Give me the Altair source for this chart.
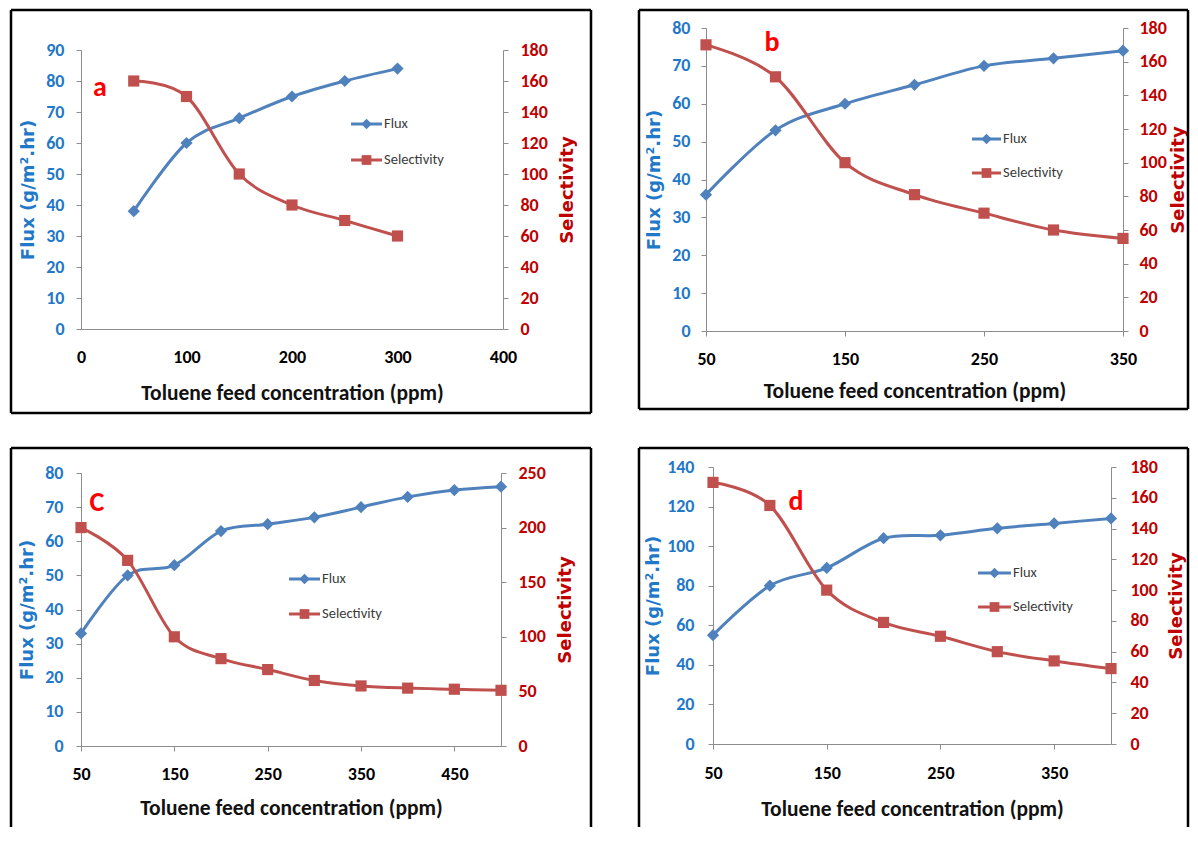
import altair as alt
import pandas as pd

# ---------------- data ----------------
a_x = [50, 100, 150, 200, 250, 300]
a_flux = [38, 60, 68, 75, 80, 84]
a_sel = [160, 150, 100, 80, 70, 60]

b_x = [50, 100, 150, 200, 250, 300, 350]
b_flux = [36, 53, 60, 65, 70, 72, 74]
b_sel = [170, 151, 100, 81, 70, 60, 55]

c_x = [50, 100, 150, 200, 250, 300, 350, 400, 450, 500]
c_flux = [33, 50, 53, 63, 65, 67, 70, 73, 75, 76]
c_sel = [200, 170, 100, 80, 70, 60, 55, 53, 52, 51]

d_x = [50, 100, 150, 200, 250, 300, 350, 400]
d_flux = [55, 80, 89, 104, 105.5, 109, 111.5, 114]
d_sel = [170, 155, 100, 79, 70, 60, 54, 49]

a_xticks = [0, 100, 200, 300, 400]
b_xticks = [50, 150, 250, 350]
c_xticks = [50, 150, 250, 350, 450]
d_xticks = [50, 150, 250, 350]

a_fticks = list(range(0, 91, 10))
b_fticks = list(range(0, 81, 10))
c_fticks = list(range(0, 81, 10))
d_fticks = list(range(0, 141, 20))

a_sticks = list(range(0, 181, 20))
b_sticks = list(range(0, 181, 20))
c_sticks = list(range(0, 251, 50))
d_sticks = list(range(0, 181, 20))

X_TITLE = "Toluene feed concentration (ppm)"
FLUX_TITLE = "Flux (g/m\u00b2.hr)"
SEL_TITLE = "Selectivity"
LEG_FLUX = "Flux"
LEG_SEL = "Selectivity"

# ---------------- styling ----------------
FONT = "Carlito, 'Liberation Sans Narrow', Roboto, sans-serif"
YFONT = "'DejaVu Sans', Verdana, sans-serif"
BLUE_LINE = "#4F81BD"
RED_LINE = "#C0504D"
BLUE_TXT = "#1F78C8"
RED_TXT = "#C00000"
GRAY = "#8C8C8C"

one = pd.DataFrame({"k": [0]})


def frame(x0, x1, y0, y1, bottom=True):
    parts = []
    segs = [(x0, x1, y0, y0), (x0, x0, y0, y1), (x1, x1, y0, y1)]
    if bottom:
        segs.append((x0, x1, y1, y1))
    for (xa, xb, ya, yb) in segs:
        parts.append(
            alt.Chart(one).mark_rule(color="black", strokeWidth=2.5).encode(
                x=alt.value(xa), x2=alt.value(xb), y=alt.value(ya), y2=alt.value(yb)
            )
        )
    return parts


def legend(x0, x1, y, color, shape, size, label):
    rule = alt.Chart(one).mark_rule(color=color, strokeWidth=3).encode(
        x=alt.value(x0), x2=alt.value(x1), y=alt.value(y)
    )
    pt = alt.Chart(one).mark_point(shape=shape, filled=True, size=size, color=color, opacity=1).encode(
        x=alt.value((x0 + x1) / 2), y=alt.value(y)
    )
    txt = alt.Chart(one).mark_text(
        text=label, align="left", baseline="middle", font=FONT, fontSize=14.5, color="#3A3A3A"
    ).encode(x=alt.value(x1 + 2), y=alt.value(y))
    return [rule, pt, txt]


def panel(xs, flux, sel, p):
    df = pd.DataFrame({"x": xs, "flux": flux, "sel": sel})
    base = alt.Chart(df)
    xenc = alt.X(
        "x:Q",
        scale=alt.Scale(domain=p["xdom"], range=p["xrange"], nice=False, zero=False),
        axis=alt.Axis(
            values=p["xticks"], format="d", title=X_TITLE, grid=False, labelFlush=False,
            ticks=p["xtick_on"], tickSize=5, tickColor=GRAY, domainColor=GRAY,
            labelFont=FONT, labelFontSize=18, labelFontWeight="bold", labelColor="black",
            labelPadding=p["xlabpad"],
            titleFont=FONT, titleFontSize=21.5, titleFontWeight="bold", titleColor="#111111",
            titlePadding=p["xtitlepad"],
        ),
    )
    yflux = alt.Y(
        "flux:Q",
        scale=alt.Scale(domain=p["fdom"], range=p["yrange"], nice=False, zero=True),
        axis=alt.Axis(
            orient="left", values=p["fticks"], format="d", title=FLUX_TITLE, grid=False,
            offset=p.get("loff", 0),
            tickSize=5, tickColor=GRAY, domainColor=GRAY,
            labelFont=FONT, labelFontSize=18, labelFontWeight="bold", labelColor=BLUE_TXT,
            labelPadding=p["llabpad"],
            titleFont=YFONT, titleFontSize=18, titleFontWeight="bold", titleColor=BLUE_TXT,
            titlePadding=p["ltitlepad"],
        ),
    )
    ysel = alt.Y(
        "sel:Q",
        scale=alt.Scale(domain=p["sdom"], range=p["yrange"], nice=False, zero=True),
        axis=alt.Axis(
            orient="right", values=p["sticks"], format="d", title=SEL_TITLE, grid=False,
            tickSize=5, tickColor=GRAY, domainColor=GRAY,
            labelFont=FONT, labelFontSize=18, labelFontWeight="bold", labelColor=RED_TXT,
            labelPadding=p["rlabpad"],
            titleFont=YFONT, titleFontSize=18, titleFontWeight="bold", titleColor=RED_TXT,
            titleAngle=270, titleBaseline="top", titlePadding=p["rtitlepad"],
        ),
    )
    flux_layer = alt.layer(
        base.mark_line(color=BLUE_LINE, strokeWidth=3, interpolate="cardinal").encode(x=xenc, y=yflux),
        base.mark_point(shape="diamond", filled=True, size=150, color=BLUE_LINE, opacity=1).encode(x=xenc, y=yflux),
    )
    sel_layer = alt.layer(
        base.mark_line(color=RED_LINE, strokeWidth=3, interpolate="cardinal").encode(x=xenc, y=ysel),
        base.mark_point(shape="square", filled=True, size=125, color=RED_LINE, opacity=1).encode(x=xenc, y=ysel),
    )
    lx0, lx1, ly1, ly2 = p["leg"]
    deco = []
    deco += frame(*p["frame"], bottom=p["frame_bottom"])
    deco += legend(lx0, lx1, ly1, BLUE_LINE, "diamond", 110, LEG_FLUX)
    deco += legend(lx0, lx1, ly2, RED_LINE, "square", 95, LEG_SEL)
    tx, ty, letter = p["letter"]
    deco.append(
        alt.Chart(one).mark_text(
            text=letter, font=FONT, fontSize=28, fontWeight="bold", color="#FF0000",
            align="center", baseline="middle",
        ).encode(x=alt.value(tx), y=alt.value(ty))
    )
    return (
        alt.layer(flux_layer, sel_layer, *deco)
        .resolve_scale(y="independent")
        .properties(width=p["w"], height=p["h"])
    )


pa = panel(a_x, a_flux, a_sel, dict(
    xdom=[0, 400], xrange=[0, 422], xticks=a_xticks, xtick_on=False, xlabpad=19, xtitlepad=16,
    fdom=[0, 90], fticks=a_fticks, sdom=[0, 180], sticks=a_sticks, yrange=[301, 22],
    llabpad=12, ltitlepad=8, rlabpad=12, rtitlepad=11,
    w=422, h=301, frame=(-70, 510, -18, 385), frame_bottom=True,
    leg=(270, 301, 96, 132), letter=(19, 60, "a"),
))
pb = panel(b_x, b_flux, b_sel, dict(
    xdom=[50, 350], xrange=[0, 417], xticks=b_xticks, xtick_on=True, xlabpad=14, xtitlepad=12,
    fdom=[0, 80], fticks=b_fticks, sdom=[0, 180], sticks=b_sticks, yrange=[303, 0],
    llabpad=11, ltitlepad=8, rlabpad=11, rtitlepad=3,
    w=417, h=303, frame=(-67, 482, -18, 381), frame_bottom=True,
    leg=(266, 295, 111, 145), letter=(66, 15, "b"),
))
pc = panel(c_x, c_flux, c_sel, dict(
    xdom=[50, 500], xrange=[0, 420], xticks=c_xticks, xtick_on=True, xlabpad=14, xtitlepad=14,
    fdom=[0, 80], fticks=c_fticks, sdom=[0, 250], sticks=c_sticks, yrange=[280, 7],
    llabpad=13, ltitlepad=8, rlabpad=12, rtitlepad=11,
    w=420, h=280, frame=(-70, 510, -18, 361), frame_bottom=False,
    leg=(208, 239, 113, 148), letter=(16, 37, "C"),
))
pd_ = panel(d_x, d_flux, d_sel, dict(
    xdom=[50, 400], xrange=[7, 405], xticks=d_xticks, xtick_on=True, xlabpad=15, xtitlepad=16,
    fdom=[0, 140], fticks=d_fticks, sdom=[0, 180], sticks=d_sticks, yrange=[278, 1],
    llabpad=14, ltitlepad=4, rlabpad=14, rtitlepad=10, loff=-7,
    w=405, h=278, frame=(-67, 482, -18, 361), frame_bottom=False,
    leg=(272, 305, 107, 141), letter=(90, 36, "d"),
))

chart = (
    alt.concat(pa, pb, pc, pd_, columns=2, spacing={"row": 135, "column": 203}, bounds="flush")
    .properties(padding={"left": 1, "top": 0, "right": 0, "bottom": 0}, background="white")
    .configure_view(stroke=None)
)

chart.save("out.html", embed_options={"renderer": "svg", "actions": False})
